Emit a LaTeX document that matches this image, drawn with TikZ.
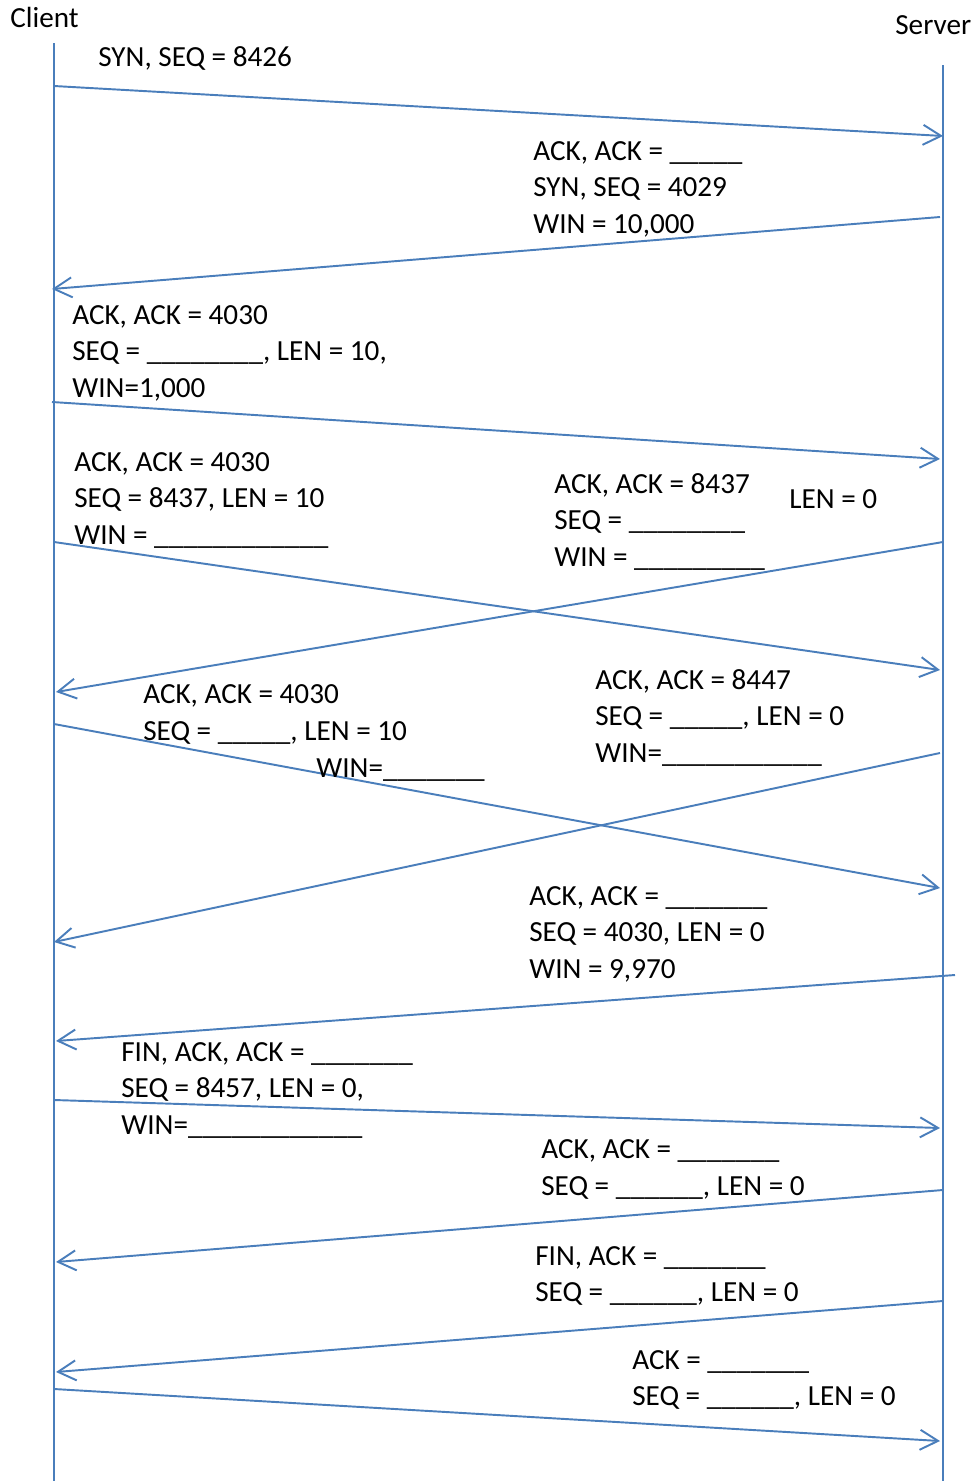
\documentclass[tikz,border=0pt]{standalone}
\usepackage{fontspec}
\setmainfont{Carlito}
\usetikzlibrary{arrows.meta}
\definecolor{msgblue}{HTML}{4A7EBB}

\begin{document}
\begin{tikzpicture}[x=0.02cm,y=-0.02cm,
  life/.style={line width=1.1pt, color=msgblue},
  msg/.style={-{Straight Barb[length=3.6mm,width=4mm]}, line width=1.1pt, color=msgblue},
  lbl/.style={font=\fontsize{16.6}{20.5}\selectfont, inner sep=0pt, anchor=base west, align=left},
]
\useasboundingbox (0,0) rectangle (977,1481);
% lifelines
\node[lbl] (client) at (10,27) {Client};
\node[lbl] (server) at (895,34) {Server};
\coordinate (ctop) at (54,43); \coordinate (cbot) at (54,1481);
\coordinate (stop) at (943,65); \coordinate (sbot) at (943,1481);
\draw[life] (ctop) -- (cbot);
\draw[life] (stop) -- (sbot);
% handshake
\coordinate (c1) at (54,86); \coordinate (s1) at (943,136);
\draw[msg] (c1) -- (s1);
\node[lbl] (m1) at (98,66) {SYN, SEQ = 8426};
\coordinate (s2) at (940,217); \coordinate (c2) at (52,289);
\draw[msg] (s2) -- (c2);
\node[lbl] (m2) at (533,233) {ACK, ACK = \_\_\_\_\_\\SYN, SEQ = 4029\\WIN = 10,000};
\coordinate (c3) at (52,402); \coordinate (s3) at (940,459);
\draw[msg] (c3) -- (s3);
\node[lbl] (m3) at (72,397) {ACK, ACK = 4030\\SEQ = \_\_\_\_\_\_\_\_, LEN = 10,\\WIN=1,000};
% data segments (crossing)
\coordinate (c4) at (54,542); \coordinate (s4) at (940,670);
\draw[msg] (c4) -- (s4);
\node[lbl] (m4) at (74,544) {ACK, ACK = 4030\\SEQ = 8437, LEN = 10\\WIN = \_\_\_\_\_\_\_\_\_\_\_\_};
\coordinate (s5) at (943,542); \coordinate (c5) at (56,692);
\draw[msg] (s5) -- (c5);
\node[lbl] (m5) at (554,566) {ACK, ACK = 8437\\SEQ = \_\_\_\_\_\_\_\_\\WIN = \_\_\_\_\_\_\_\_\_};
\node[lbl] (m5len) at (789,508) {LEN = 0};
\coordinate (c6) at (54,724); \coordinate (s6) at (940,888);
\draw[msg] (c6) -- (s6);
\node[lbl] (m6) at (143,740) {ACK, ACK = 4030\\SEQ = \_\_\_\_\_, LEN = 10};
\node[lbl] (m6win) at (316,777) {WIN=\_\_\_\_\_\_\_};
\coordinate (s7) at (940,753); \coordinate (c7) at (54,942);
\draw[msg] (s7) -- (c7);
\node[lbl] (m7) at (595,762) {ACK, ACK = 8447\\SEQ = \_\_\_\_\_, LEN = 0\\WIN=\_\_\_\_\_\_\_\_\_\_\_};
\coordinate (s8) at (955,975); \coordinate (c8) at (56,1041);
\draw[msg] (s8) -- (c8);
\node[lbl] (m8) at (529,978) {ACK, ACK = \_\_\_\_\_\_\_\\SEQ = 4030, LEN = 0\\WIN = 9,970};
% teardown
\coordinate (c9) at (54,1100); \coordinate (s9) at (940,1128);
\draw[msg] (c9) -- (s9);
\node[lbl] (m9) at (121,1134) {FIN, ACK, ACK = \_\_\_\_\_\_\_\\SEQ = 8457, LEN = 0,\\WIN=\_\_\_\_\_\_\_\_\_\_\_\_};
\coordinate (s10) at (943,1190); \coordinate (c10) at (56,1262);
\draw[msg] (s10) -- (c10);
\node[lbl] (m10) at (541,1195) {ACK, ACK = \_\_\_\_\_\_\_\\SEQ = \_\_\_\_\_\_, LEN = 0};
\coordinate (s11) at (943,1301); \coordinate (c11) at (56,1372);
\draw[msg] (s11) -- (c11);
\node[lbl] (m11) at (535,1301) {FIN, ACK = \_\_\_\_\_\_\_\\SEQ = \_\_\_\_\_\_, LEN = 0};
\coordinate (c12) at (54,1389); \coordinate (s12) at (940,1441);
\draw[msg] (c12) -- (s12);
\node[lbl] (m12) at (632,1405) {ACK = \_\_\_\_\_\_\_\\SEQ = \_\_\_\_\_\_, LEN = 0};
\end{tikzpicture}
\end{document}
